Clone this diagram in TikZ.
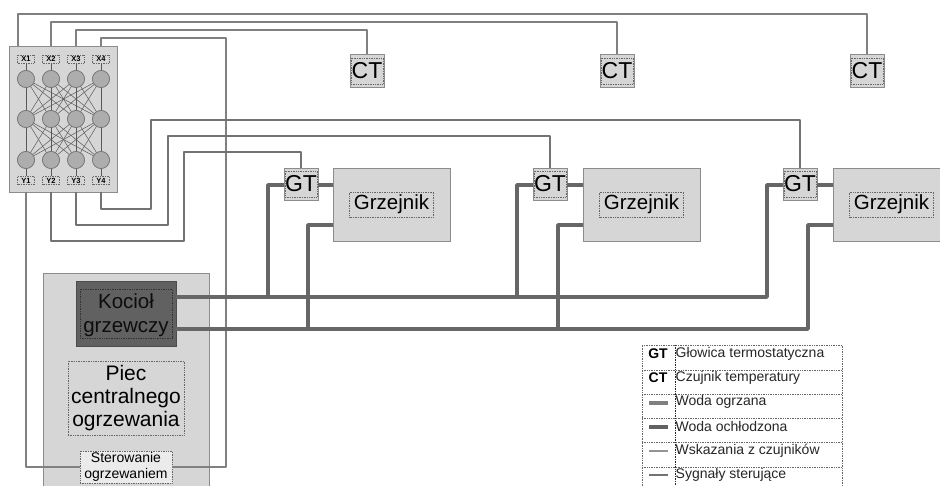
\documentclass[tikz,border=0pt]{standalone}
\usepackage{fontspec}
\setmainfont{Liberation Sans}
\begin{document}
\begin{tikzpicture}[x=1pt,y=-1pt,
  panelbox/.style={draw=black!45,fill=black!16,line width=0.9pt,inner sep=0pt,outer sep=0pt},
  dots/.style={draw=black!60,densely dotted,line width=0.7pt,inner sep=0pt,outer sep=0pt},
  neuron/.style={circle,draw=black!55,fill=black!32,line width=0.6pt,minimum size=17pt,inner sep=0pt,outer sep=0pt},
  io/.style={dots,minimum width=17pt,minimum height=8pt,font=\bfseries\fontsize{7.5}{8}\selectfont},
  mesh/.style={draw=black!65,line width=0.5pt},
  sensor/.style={draw=black!50,line width=2pt,line join=round},
  ctrl/.style={draw=black!55,line width=2.2pt,line join=round},
  pipe/.style={draw=black!60,line width=3.6pt,line join=round},
  gtbox/.style={panelbox,minimum width=34pt,minimum height=32pt},
  grz/.style={panelbox,minimum width=117pt,minimum height=73pt},
  lab/.style={dots,font=\fontsize{20.5}{24}\selectfont,minimum width=84pt,minimum height=25pt},
  sq/.style={dots,minimum width=32pt,minimum height=26pt,font=\fontsize{23}{24}\selectfont},
  leg/.style={anchor=west,inner sep=0pt,font=\fontsize{14}{15}\selectfont,text=black!85},
  legk/.style={inner sep=0pt,font=\bfseries\fontsize{14}{15}\selectfont}]
\useasboundingbox (0,0) rectangle (940,486);
\fill[white] (0,0) rectangle (940,486);
% heating stove
\node[panelbox,minimum width=166pt,minimum height=214pt] (piec) at (126,380) {};
\node[draw=black!70,fill=black!62,line width=0.9pt,minimum width=100pt,minimum height=65pt,inner sep=0pt,outer sep=0pt] (kociol) at (126,313.5) {};
\node[dots,draw=black!80,minimum width=92pt,minimum height=49pt,inner sep=0pt] (kociolframe) at (126,313.5) {};
\node[align=center,inner sep=0pt,font=\fontsize{20.5}{23.5}\selectfont,text=black!95] (kociollab) at (126,315) {Kocioł\\grzewczy};
\node[dots,minimum width=116pt,minimum height=74pt,align=center,font=\fontsize{21}{23}\selectfont] (pieclab) at (126,398) {Piec\\centralnego\\ogrzewania};
\node[draw=black!60,fill=black!8,densely dotted,line width=0.7pt,minimum width=92pt,minimum height=32pt,inner sep=0pt,outer sep=0pt,align=center,font=\fontsize{14}{15.5}\selectfont] (ster) at (126,467) {Sterowanie\\ogrzewaniem};
% network panel
\node[panelbox,minimum width=108pt,minimum height=146pt] (net) at (63.5,119.5) {};
\foreach \i/\x in {1/26,2/51,3/76,4/101}{
  \node[io] (x\i) at (\x,59) {X\i};
  \node[io] (y\i) at (\x,180.5) {Y\i};
  \node[neuron] (a\i) at (\x,79) {};
  \node[neuron] (b\i) at (\x,119) {};
  \node[neuron] (c\i) at (\x,160) {};
}
\foreach \i in {1,2,3,4}{
  \draw[mesh] (x\i) -- (a\i);
  \draw[mesh] (c\i) -- (y\i);
  \foreach \j in {1,2,3,4}{
    \draw[mesh] (a\i) -- (b\j);
    \draw[mesh] (b\i) -- (c\j);
  }
}
\foreach \i/\x in {1/26,2/51,3/76,4/101}{
  \node[neuron] at (\x,79) {};
  \node[neuron] at (\x,119) {};
  \node[neuron] at (\x,160) {};
}
% sensors
\foreach \n/\cx in {1/367,2/617,3/867}{
  \node[panelbox,minimum width=34pt,minimum height=33pt] (ct\n) at (\cx,70.5) {};
  \node[sq] at (\cx,71) {CT};
}
% radiators
\foreach \n/\gx/\rx in {1/301/391.5,2/550/641.5,3/800/891.5}{
  \node[gtbox] (gt\n) at (\gx,184) {};
  \node[sq] at (\gx,184) {GT};
  \node[grz] (r\n) at (\rx,204.5) {};
  \node[lab] at (\rx,204.5) {Grzejnik};
}
% signal wires
\coordinate (x1o) at (17.5,46.5);
\coordinate (x2o) at (51,46.5);
\coordinate (x3o) at (76,46.5);
\coordinate (x4o) at (101,46.5);
\coordinate (y1o) at (26,192.5);
\coordinate (y2o) at (51,192.5);
\coordinate (y3o) at (76,192.5);
\coordinate (y4o) at (101,192.5);
\draw[sensor] (x1o) -- (17.5,14) -- (867,14) -- (ct3.north);
\draw[sensor] (x2o) -- (51,22) -- (617,22) -- (ct2.north);
\draw[sensor] (x3o) -- (76,30) -- (367,30) -- (ct1.north);
\draw[sensor] (x4o) -- (101,38) -- (226,38) -- (226,467) -- (ster.east);
\draw[sensor] (y1o) -- (26,467) -- (ster.west);
\draw[ctrl] (y4o) -- (101,209) -- (151,209) -- (151,120) -- (800,120) -- (gt3.north);
\draw[ctrl] (y3o) -- (76,225) -- (168,225) -- (168,136) -- (550,136) -- (gt2.north);
\draw[ctrl] (y2o) -- (51,241) -- (184,241) -- (184,152) -- (301,152) -- (gt1.north);
% hot pipes
\coordinate (kh) at (176,297);
\coordinate (kc) at (176,329);
\draw[pipe] (kh) -- (767,297) -- (767,185) -- (gt3.west |- 0,185);
\draw[pipe] (268,297) -- (268,185) -- (gt1.west |- 0,185);
\draw[pipe] (517,297) -- (517,185) -- (gt2.west |- 0,185);
\draw[pipe] (kc) -- (808,329) -- (808,225) -- (r3.west |- 0,225);
\draw[pipe] (308,329) -- (308,225) -- (r1.west |- 0,225);
\draw[pipe] (558,329) -- (558,225) -- (r2.west |- 0,225);
\foreach \n in {1,2,3}{
  \draw[pipe] (gt\n.east |- 0,185) -- (r\n.west |- 0,185);
}
% legend
\draw[dots] (642,486) -- (642,345) -- (842,345) -- (842,486);
\draw[dots,draw=black!85] (675,345) -- (675,486);
\foreach \y in {370,394,418,442,467}{
  \draw[dots] (642,\y) -- (842,\y);
}
\node[legk] (k1) at (658,354) {GT};
\node[legk] (k2) at (658,378) {CT};
\node[leg] (t1) at (675.5,354) {Głowica termostatyczna};
\node[leg] (t2) at (675.5,378) {Czujnik temperatury};
\node[leg] (t3) at (675.5,402) {Woda ogrzana};
\node[leg] (t4) at (675.5,426) {Woda ochłodzona};
\node[leg] (t5) at (675.5,451) {Wskazania z czujników};
\node[leg] (t6) at (675.5,475) {Sygnały sterujące};
\draw[black!50,line width=3.2pt] (649,403) -- (668,403);
\draw[black!62,line width=3.4pt] (649,427) -- (668,427);
\draw[black!42,line width=1.8pt] (649,451) -- (668,451);
\draw[black!55,line width=2.2pt] (649,475) -- (668,475);
\end{tikzpicture}
\end{document}
